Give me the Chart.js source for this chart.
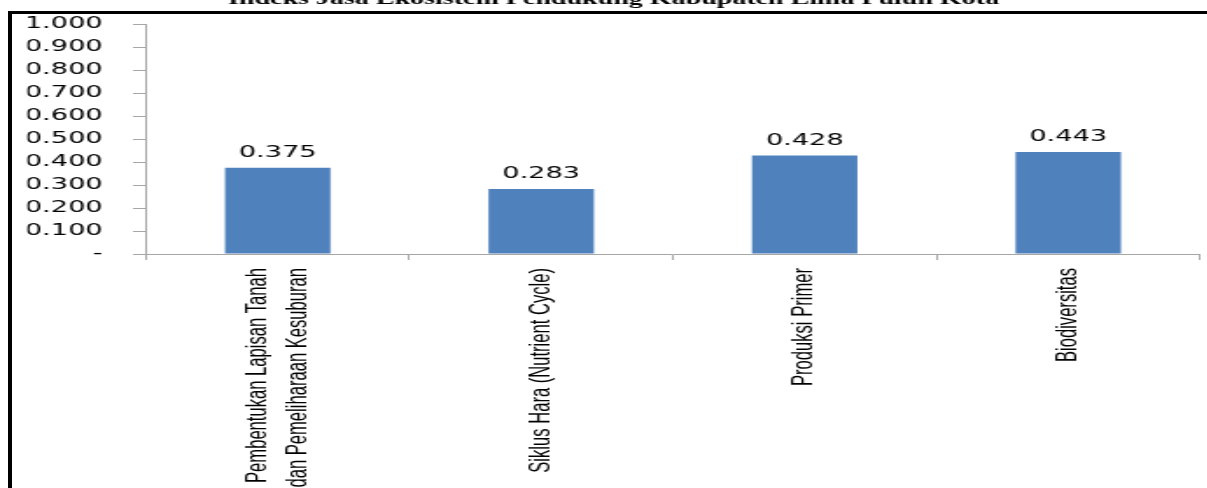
<!DOCTYPE html>
<html>
<head>
<meta charset="utf-8">
<script src="https://cdn.jsdelivr.net/npm/chart.js@4.4.0/dist/chart.umd.min.js"></script>
<style>
  html, body { margin: 0; padding: 0; background: #fff; overflow: hidden; width: 1207px; height: 488px; }
  /* black frame of the original document box, cut by the window */
  #frame { position: absolute; left: 8px; top: 11px; width: 1300px; height: 600px; border-left: 4px solid #000; border-top: 3px solid #000; pointer-events: none; z-index: 2; }
  /* the reference is stretched sideways, so the canvas is too */
  #chart { position: absolute; left: 0; top: -10px; transform: scaleX(1.75); transform-origin: 0 0; }
</style>
</head>
<body>
<div id="frame"></div>
<canvas id="chart" width="690" height="530"></canvas>
<script>
const chartTitle = 'Indeks Jasa Ekosistem Pendukung Kabupaten Lima Puluh Kota';

const categories = [
    ['Pembentukan Lapisan Tanah', 'dan Pemeliharaan Kesuburan'],
    'Siklus Hara (Nutrient Cycle)',
    'Produksi Primer',
    'Biodiversitas'
];

const indexValues = [0.375, 0.283, 0.428, 0.443];

const yTickLabels = ['-', '0.100', '0.200', '0.300', '0.400', '0.500', '0.600', '0.700', '0.800', '0.900', '1.000'];

const axisGray = '#a6a6a6';

// value printed above each bar
const valueLabels = {
    id: 'valueLabels',
    afterDatasetsDraw(chart) {
        const ctx = chart.ctx;
        const meta = chart.getDatasetMeta(0);
        ctx.save();
        ctx.font = '15.5px "DejaVu Sans", sans-serif';
        ctx.fillStyle = '#000';
        ctx.textAlign = 'center';
        ctx.textBaseline = 'alphabetic';
        meta.data.forEach((bar, i) => {
            ctx.fillText(indexValues[i].toFixed(3), bar.x, bar.y - 11);
        });
        ctx.restore();
    }
};

// Chart.js puts the first line of a rotated label on the tick, we want the block centered
const centerMultiline = {
    id: 'centerMultiline',
    beforeDraw(chart) {
        const items = chart.scales.x.getLabelItems();
        items.forEach(item => {
            if (Array.isArray(item.label) && !item._shifted) {
                item.textOffset -= (item.label.length - 1) * item.font.lineHeight / 2;
                item._shifted = true;
            }
        });
    }
};

new Chart(document.getElementById('chart'), {
    type: 'bar',
    data: {
        labels: categories,
        datasets: [{
            data: indexValues,
            backgroundColor: '#4f81bd',
            borderWidth: 0,
            barPercentage: 0.4,
            categoryPercentage: 1
        }]
    },
    plugins: [valueLabels, centerMultiline],
    options: {
        responsive: false,
        animation: false,
        layout: {
            padding: { left: 15.5, right: 4.3, top: 0, bottom: 0 }
        },
        plugins: {
            legend: { display: false },
            tooltip: { enabled: false },
            title: {
                display: true,
                text: chartTitle,
                color: '#000',
                font: { family: '"Liberation Serif", serif', size: 16, weight: 'bold', lineHeight: 1.2 },
                padding: { top: 0, bottom: 14.8 }
            }
        },
        scales: {
            x: {
                grid: {
                    drawOnChartArea: false,
                    drawTicks: true,
                    tickLength: 6,
                    color: axisGray,
                    offset: true
                },
                border: { color: axisGray },
                ticks: {
                    color: '#000',
                    font: { family: '"Liberation Sans", Arial, sans-serif', size: 16.6, lineHeight: 1.36 },
                    minRotation: 90,
                    maxRotation: 90,
                    autoSkip: false,
                    padding: 8
                },
                afterFit: (axis) => { axis.height = 266; }
            },
            y: {
                min: 0,
                max: 1,
                ticks: {
                    stepSize: 0.1,
                    padding: 17.4,
                    color: '#000',
                    font: { family: '"DejaVu Sans", sans-serif', size: 15.5 },
                    callback: (value, index) => yTickLabels[index]
                },
                grid: {
                    drawOnChartArea: false,
                    drawTicks: true,
                    tickLength: 7.4,
                    color: axisGray
                },
                border: { color: axisGray },
                afterFit: (axis) => { axis.width = 67.9; }
            }
        }
    }
});
</script>
</body>
</html>
